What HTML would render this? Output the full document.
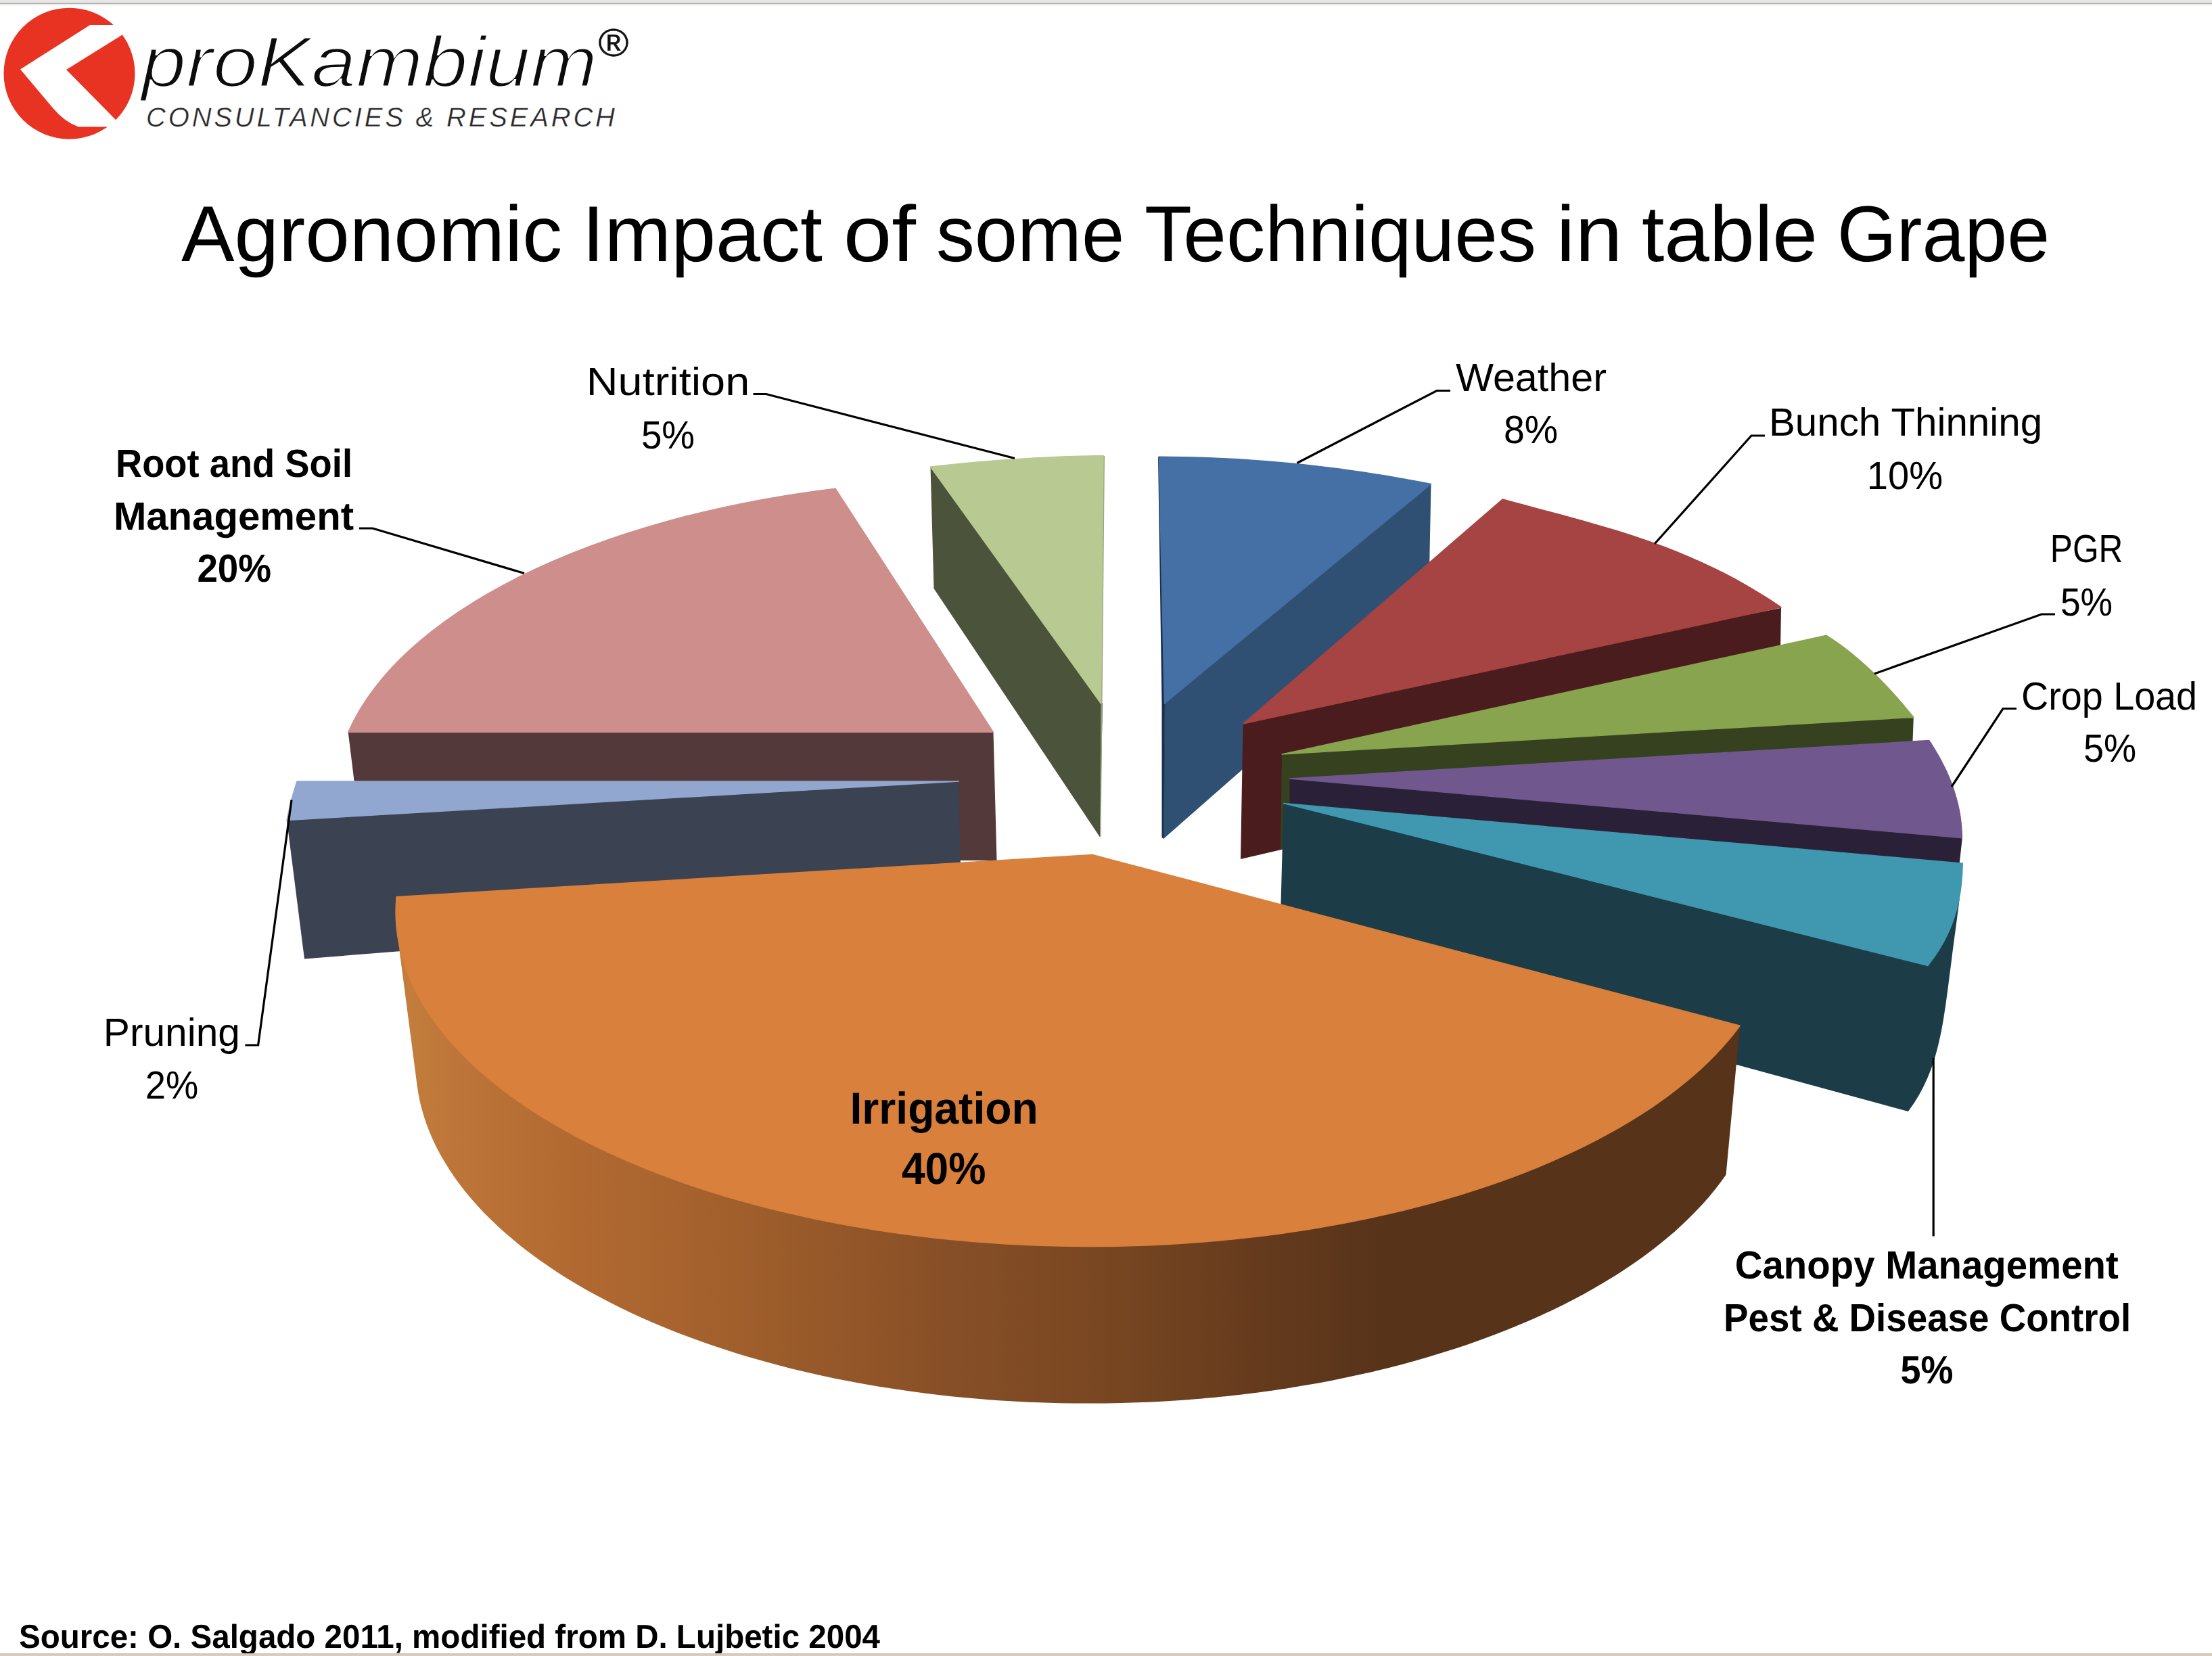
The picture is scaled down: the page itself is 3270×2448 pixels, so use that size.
<!DOCTYPE html>
<html lang="en"><head><meta charset="utf-8"><title>Agronomic Impact of some Techniques in table Grape</title>
<style>
html,body{margin:0;padding:0;background:#fff;}
body{width:3270px;height:2448px;overflow:hidden;}
svg{display:block;font-family:"Liberation Sans",sans-serif;text-rendering:geometricPrecision;}
</style></head><body>
<svg width="3270" height="2448" viewBox="0 0 3270 2448">
<rect width="3270" height="2448" fill="#fff"/>
<path d="M1375.5,690.0 L1380.5,870.0 L1626.0,1237.5 L1630.0,1040.0 L1500.0,860.0Z" fill="#4c533b"/>
<path d="M1631.0,673.5 L1633.0,674.0 L1629.5,1040.0 L1627.5,1236.0 L1626.0,1237.5 L1627.5,1040.0Z" fill="#96a57c"/>
<path d="M1375.5,690 Q1499,675.5 1631,673.5 L1627.5,1040Z" fill="#b8ca92" stroke="#b8ca92" stroke-width="1.4" stroke-linejoin="round"/>
<path d="M1721.5,1040.0 L1900.0,890.0 L2115.5,715.5 L2112.0,896.0 L1720.0,1240.0Z" fill="#2f5073"/>
<path d="M1712.0,675.0 L1714.0,675.0 L1722.0,1040.0 L1720.5,1240.0 L1717.5,1238.0 L1717.5,1040.0Z" fill="#1c3050"/>
<path d="M1721.5,1040 L1713.2,675.3 L1730.0,675.4 L1746.8,675.6 L1763.5,676.0 L1780.3,676.5 L1797.1,677.1 L1813.8,677.9 L1830.6,678.8 L1847.3,679.9 L1864.1,681.1 L1880.9,682.4 L1897.6,683.9 L1914.4,685.5 L1931.1,687.2 L1947.9,689.1 L1964.7,691.1 L1981.4,693.3 L1998.2,695.6 L2014.9,698.0 L2031.7,700.6 L2048.5,703.3 L2065.2,706.2 L2082.0,709.2 L2098.7,712.3 L2115.5,715.5Z" fill="#4570a5" stroke="#4570a5" stroke-width="1.4" stroke-linejoin="round"/>
<path d="M514.7,1082.4 L560.0,1078.0 L1440.0,1078.0 L1468.5,1082.4 L1473.5,1272.0 L538.0,1272.0Z" fill="#54393a"/>
<path d="M514.7,1082.4 A982.32,471.81 0 0 1 1235,722.1 L1468.5,1082.4Z" fill="#ce8e8c" stroke="#ce8e8c" stroke-width="1.4" stroke-linejoin="round"/>
<path d="M1837.5,1070.0 L2200.0,985.0 L2633.0,898.8 L2630.0,1085.0 L1834.0,1270.0Z" fill="#4b1c1d"/>
<path d="M1837.5,1070 L2221.2,738.0 L2238.4,742.7 L2255.6,747.3 L2272.7,751.9 L2289.9,756.4 L2307.0,761.0 L2324.2,765.7 L2341.3,770.4 L2358.5,775.3 L2375.7,780.3 L2392.8,785.5 L2410.0,791.0 L2427.1,796.7 L2444.3,802.7 L2461.4,809.0 L2478.6,815.7 L2495.8,822.8 L2512.9,830.3 L2530.1,838.3 L2547.2,846.7 L2564.4,855.7 L2581.5,865.3 L2598.7,875.5 L2615.8,886.2 L2633.0,897.7Z" fill="#a54442" stroke="#a54442" stroke-width="1.4" stroke-linejoin="round"/>
<path d="M1895.0,1115.0 L2400.0,1060.0 L2828.8,1061.2 L2822.0,1246.0 L1893.0,1255.0Z" fill="#36421f"/>
<path d="M1895,1115 L2700.0,939.3 L2705.4,942.8 L2710.7,946.3 L2716.1,950.0 L2721.5,953.9 L2726.8,957.9 L2732.2,962.0 L2737.6,966.3 L2742.9,970.7 L2748.3,975.2 L2753.6,979.9 L2759.0,984.7 L2764.4,989.7 L2769.7,994.8 L2775.1,1000.1 L2780.5,1005.5 L2785.8,1011.0 L2791.2,1016.7 L2796.6,1022.5 L2801.9,1028.4 L2807.3,1034.5 L2812.7,1040.8 L2818.0,1047.2 L2823.4,1053.7 L2828.8,1060.3Z" fill="#88a44e" stroke="#88a44e" stroke-width="1.4" stroke-linejoin="round"/>
<path d="M1906.5,1151.0 L2500.0,1160.0 L2900.8,1238.8 L2896.5,1278.0 L1906.5,1195.0Z" fill="#2a2139"/>
<path d="M1906.5,1151 L2851.7,1094.5 L2855.7,1100.5 L2859.4,1106.5 L2863.0,1112.5 L2866.5,1118.5 L2869.7,1124.6 L2872.8,1130.6 L2875.8,1136.6 L2878.6,1142.6 L2881.2,1148.6 L2883.6,1154.6 L2885.9,1160.6 L2888.0,1166.6 L2889.9,1172.6 L2891.7,1178.6 L2893.3,1184.7 L2894.8,1190.7 L2896.1,1196.7 L2897.2,1202.7 L2898.1,1208.7 L2898.9,1214.7 L2899.5,1220.7 L2900.0,1226.7 L2900.3,1232.7 L2900.4,1238.8Z" fill="#70588e" stroke="#70588e" stroke-width="1.4" stroke-linejoin="round"/>
<path d="M1897.5,1187.5 L2600,1253 L2901.4,1276.2 L2900.7,1288.5 L2899.7,1300.7 L2898.5,1312.9 L2897.1,1325.2 L2895.7,1337.4 L2894.1,1349.6 L2892.5,1361.8 L2890.9,1374.0 L2889.2,1386.3 L2887.6,1398.5 L2886.0,1410.7 L2884.5,1423.0 L2882.9,1435.2 L2881.3,1447.4 L2879.8,1459.6 L2878.1,1471.8 L2876.5,1484.1 L2874.6,1496.3 L2872.7,1508.5 L2870.5,1520.8 L2868.0,1533.0 L2865.2,1545.2 L2862.0,1557.4 L2858.4,1569.7 L2854.1,1581.9 L2849.2,1594.1 L2843.5,1606.3 L2837.0,1618.5 L2829.5,1630.8 L2820.9,1643.0 L1892,1390Z" fill="#1c3c47"/>
<path d="M1897.5,1187.5 L2901.1,1276.2 L2901.0,1282.6 L2900.8,1288.9 L2900.4,1295.2 L2899.9,1301.5 L2899.3,1307.8 L2898.5,1314.1 L2897.6,1320.4 L2896.5,1326.7 L2895.3,1333.0 L2893.8,1339.3 L2892.2,1345.6 L2890.4,1351.9 L2888.3,1358.2 L2886.1,1364.5 L2883.6,1370.8 L2880.9,1377.1 L2878.0,1383.4 L2874.8,1389.7 L2871.3,1396.0 L2867.6,1402.3 L2863.6,1408.6 L2859.3,1414.9 L2854.7,1421.2 L2849.9,1427.5Z" fill="#4097b0" stroke="#4097b0" stroke-width="1.4" stroke-linejoin="round"/>
<path d="M424.0,1212.5 L436.0,1185.0 L1300.0,1158.0 L1417.5,1155.0 L1421.0,1340.0 L450.0,1417.5Z" fill="#3b4252"/>
<path d="M439,1155 L1417.5,1155 L424,1212.5 Q430,1182 439,1155Z" fill="#92a7cf" stroke="#92a7cf" stroke-width="1.4" stroke-linejoin="round"/>
<defs><linearGradient id="og" gradientUnits="userSpaceOnUse" x1="586" y1="0" x2="2572" y2="0">
<stop offset="0.0000" stop-color="#c57e3c"/>
<stop offset="0.0222" stop-color="#c07a3a"/>
<stop offset="0.0574" stop-color="#bb7337"/>
<stop offset="0.1354" stop-color="#b16931"/>
<stop offset="0.2085" stop-color="#a8632e"/>
<stop offset="0.2613" stop-color="#9f5e2b"/>
<stop offset="0.3595" stop-color="#905428"/>
<stop offset="0.4099" stop-color="#874f27"/>
<stop offset="0.5358" stop-color="#774621"/>
<stop offset="0.6365" stop-color="#663b1d"/>
<stop offset="0.7372" stop-color="#57331a"/>
<stop offset="1.0000" stop-color="#57331a"/>
</linearGradient></defs>
<path d="M586.1,1325.7 L585.5,1332.2 L585.2,1338.8 L585.0,1345.3 L585.1,1351.9 L585.3,1358.4 L585.7,1365.0 L586.2,1371.5 L587.0,1378.1 L616.7,1605.3 L618.5,1616.8 L620.7,1628.2 L623.6,1639.6 L626.9,1651.0 L630.7,1662.3 L635.0,1673.6 L639.9,1684.8 L645.2,1696.0 L651.1,1707.1 L657.5,1718.1 L664.3,1729.1 L671.7,1739.9 L679.5,1750.7 L687.8,1761.4 L696.6,1772.0 L705.9,1782.5 L715.6,1792.9 L725.8,1803.1 L736.5,1813.3 L747.6,1823.3 L759.2,1833.1 L771.2,1842.9 L783.7,1852.5 L796.6,1861.9 L809.9,1871.2 L823.6,1880.4 L837.7,1889.4 L852.3,1898.2 L867.2,1906.9 L882.5,1915.3 L898.2,1923.6 L914.3,1931.7 L930.7,1939.7 L947.5,1947.4 L964.6,1954.9 L982.1,1962.3 L999.9,1969.4 L1018.0,1976.3 L1036.4,1983.0 L1055.1,1989.5 L1074.1,1995.8 L1093.4,2001.9 L1113.0,2007.7 L1132.8,2013.3 L1152.9,2018.7 L1173.2,2023.9 L1193.7,2028.8 L1214.5,2033.4 L1235.4,2037.9 L1256.6,2042.1 L1277.9,2046.0 L1299.4,2049.7 L1321.1,2053.1 L1342.9,2056.3 L1364.8,2059.3 L1386.9,2062.0 L1409.1,2064.4 L1431.4,2066.6 L1453.9,2068.5 L1476.3,2070.2 L1498.9,2071.6 L1521.5,2072.7 L1544.2,2073.6 L1566.9,2074.2 L1589.6,2074.6 L1612.3,2074.6 L1635.0,2074.5 L1657.8,2074.0 L1680.4,2073.3 L1703.1,2072.4 L1725.7,2071.2 L1748.3,2069.7 L1770.7,2068.0 L1793.1,2066.0 L1815.4,2063.7 L1837.6,2061.2 L1859.7,2058.5 L1881.6,2055.4 L1903.4,2052.2 L1925.1,2048.6 L1946.6,2044.9 L1967.9,2040.9 L1989.0,2036.6 L2010.0,2032.1 L2030.7,2027.4 L2051.2,2022.4 L2071.5,2017.2 L2091.5,2011.7 L2111.3,2006.0 L2130.8,2000.1 L2150.1,1994.0 L2169.1,1987.7 L2187.8,1981.1 L2206.2,1974.3 L2224.3,1967.3 L2242.0,1960.1 L2259.4,1952.8 L2276.5,1945.2 L2293.3,1937.4 L2309.7,1929.4 L2325.7,1921.2 L2341.4,1912.9 L2356.7,1904.3 L2371.6,1895.6 L2386.1,1886.8 L2400.1,1877.7 L2413.8,1868.6 L2427.1,1859.2 L2439.9,1849.7 L2452.4,1840.1 L2464.3,1830.3 L2475.9,1820.4 L2486.9,1810.3 L2497.6,1800.1 L2507.7,1789.8 L2517.4,1779.4 L2526.7,1768.9 L2535.4,1758.3 L2543.7,1747.6 L2551.5,1736.8 L2572.2,1516.3 L1615.0,1420.0Z" fill="url(#og)"/>
<path d="M1615,1263.5 L586.1,1325.7 L585.3,1337.3 L585.0,1349.0 L585.4,1360.7 L586.3,1372.4 L587.8,1384.1 L589.9,1395.7 L592.5,1407.3 L595.8,1418.9 L599.5,1430.5 L603.9,1442.0 L608.8,1453.4 L614.3,1464.8 L620.3,1476.2 L626.9,1487.4 L634.1,1498.6 L641.8,1509.7 L650.0,1520.7 L658.8,1531.6 L668.1,1542.4 L678.0,1553.1 L688.3,1563.7 L699.2,1574.2 L710.6,1584.5 L722.5,1594.7 L734.9,1604.8 L747.8,1614.7 L761.1,1624.5 L775.0,1634.1 L789.3,1643.6 L804.1,1652.9 L819.3,1662.0 L835.0,1671.0 L851.1,1679.8 L867.6,1688.4 L884.6,1696.7 L901.9,1704.9 L919.7,1712.9 L937.8,1720.7 L956.3,1728.3 L975.2,1735.7 L994.4,1742.9 L1014.0,1749.8 L1033.9,1756.5 L1054.2,1763.0 L1074.7,1769.3 L1095.6,1775.3 L1116.7,1781.0 L1138.1,1786.6 L1159.8,1791.9 L1181.7,1796.9 L1203.9,1801.7 L1226.3,1806.2 L1248.9,1810.5 L1271.7,1814.5 L1294.8,1818.3 L1317.9,1821.8 L1341.3,1825.0 L1364.8,1828.0 L1388.4,1830.7 L1412.2,1833.1 L1436.0,1835.2 L1460.0,1837.1 L1484.0,1838.7 L1508.1,1840.0 L1532.3,1841.1 L1556.5,1841.9 L1580.8,1842.4 L1605.0,1842.6 L1629.3,1842.5 L1653.5,1842.2 L1677.8,1841.6 L1701.9,1840.7 L1726.1,1839.5 L1750.1,1838.1 L1774.1,1836.4 L1798.0,1834.4 L1821.8,1832.1 L1845.4,1829.6 L1869.0,1826.8 L1892.4,1823.7 L1915.6,1820.4 L1938.6,1816.8 L1961.5,1812.9 L1984.2,1808.8 L2006.6,1804.4 L2028.8,1799.8 L2050.8,1794.9 L2072.6,1789.8 L2094.1,1784.4 L2115.3,1778.7 L2136.2,1772.9 L2156.8,1766.8 L2177.1,1760.4 L2197.1,1753.8 L2216.8,1747.0 L2236.1,1740.0 L2255.1,1732.8 L2273.7,1725.3 L2291.9,1717.6 L2309.8,1709.7 L2327.2,1701.7 L2344.3,1693.4 L2360.9,1684.9 L2377.1,1676.2 L2392.9,1667.4 L2408.2,1658.4 L2423.1,1649.2 L2437.6,1639.8 L2451.5,1630.3 L2465.0,1620.6 L2478.0,1610.7 L2490.5,1600.8 L2502.5,1590.6 L2514.1,1580.4 L2525.1,1570.0 L2535.6,1559.4 L2545.5,1548.8 L2555.0,1538.1 L2563.9,1527.2 L2572.2,1516.3Z" fill="#d8803c" stroke="#d8803c" stroke-width="1.4" stroke-linejoin="round"/>
<path d="M1113.5,582.5 L1132.5,582.5 L1500.0,677.5" fill="none" stroke="#000" stroke-width="3.2"/>
<path d="M2144.0,577.5 L2124.0,577.5 L1917.5,684.5" fill="none" stroke="#000" stroke-width="3.2"/>
<path d="M2609.0,644.0 L2589.0,644.0 L2446.2,803.8" fill="none" stroke="#000" stroke-width="3.2"/>
<path d="M3038.0,908.0 L3018.0,908.0 L2771.0,996.0" fill="none" stroke="#000" stroke-width="3.2"/>
<path d="M2981.0,1047.5 L2961.0,1047.5 L2885.0,1163.0" fill="none" stroke="#000" stroke-width="3.2"/>
<path d="M2858.2,1563.8 L2858.2,1827.5" fill="none" stroke="#000" stroke-width="3.2"/>
<path d="M362.4,1545.0 L381.6,1545.0 L431.0,1182.5" fill="none" stroke="#000" stroke-width="3.2"/>
<path d="M531.0,781.0 L551.0,781.0 L775.0,847.5" fill="none" stroke="#000" stroke-width="3.2"/>
<text x="866.8" y="584" font-size="58" font-weight="normal" textLength="241.4" lengthAdjust="spacingAndGlyphs">Nutrition</text>
<text x="947.9" y="662.5" font-size="58" font-weight="normal" textLength="79.2" lengthAdjust="spacingAndGlyphs">5%</text>
<text x="2152.0" y="577.5" font-size="58" font-weight="normal" textLength="223.0" lengthAdjust="spacingAndGlyphs">Weather</text>
<text x="2222.9" y="655" font-size="58" font-weight="normal" textLength="80.2" lengthAdjust="spacingAndGlyphs">8%</text>
<text x="2614.9" y="644" font-size="58" font-weight="normal" textLength="404.2" lengthAdjust="spacingAndGlyphs">Bunch Thinning</text>
<text x="2759.7" y="722.5" font-size="58" font-weight="normal" textLength="112.4" lengthAdjust="spacingAndGlyphs">10%</text>
<text x="3030.8" y="830.5" font-size="58" font-weight="normal" textLength="107.5" lengthAdjust="spacingAndGlyphs">PGR</text>
<text x="3045.9" y="909.5" font-size="58" font-weight="normal" textLength="77.2" lengthAdjust="spacingAndGlyphs">5%</text>
<text x="2987.9" y="1049" font-size="58" font-weight="normal" textLength="260.2" lengthAdjust="spacingAndGlyphs">Crop Load</text>
<text x="3079.9" y="1126" font-size="58" font-weight="normal" textLength="78.2" lengthAdjust="spacingAndGlyphs">5%</text>
<text x="152.8" y="1546" font-size="58" font-weight="normal" textLength="202.2" lengthAdjust="spacingAndGlyphs">Pruning</text>
<text x="214.8" y="1624.3" font-size="58" font-weight="normal" textLength="78.4" lengthAdjust="spacingAndGlyphs">2%</text>
<text x="170.9" y="705" font-size="58" font-weight="bold" textLength="350.1" lengthAdjust="spacingAndGlyphs">Root and Soil</text>
<text x="167.9" y="783" font-size="58" font-weight="bold" textLength="355.1" lengthAdjust="spacingAndGlyphs">Management</text>
<text x="291.4" y="860" font-size="58" font-weight="bold" textLength="109.7" lengthAdjust="spacingAndGlyphs">20%</text>
<text x="1256.5" y="1660.5" font-size="66" font-weight="bold" textLength="278.2" lengthAdjust="spacingAndGlyphs">Irrigation</text>
<text x="1333.0" y="1750" font-size="66" font-weight="bold" textLength="124.4" lengthAdjust="spacingAndGlyphs">40%</text>
<text x="2564.8" y="1889.8" font-size="58" font-weight="bold" textLength="567.0" lengthAdjust="spacingAndGlyphs">Canopy Management</text>
<text x="2548.1" y="1967.8" font-size="58" font-weight="bold" textLength="602.1" lengthAdjust="spacingAndGlyphs">Pest &amp; Disease Control</text>
<text x="2809.6" y="2045.4" font-size="58" font-weight="bold" textLength="77.9" lengthAdjust="spacingAndGlyphs">5%</text>
<text x="268.0" y="385.5" font-size="117" font-weight="normal" textLength="563.1" lengthAdjust="spacingAndGlyphs">Agronomic</text>
<text x="860.6" y="385.5" font-size="117" font-weight="normal" textLength="355.4" lengthAdjust="spacingAndGlyphs">Impact</text>
<text x="1246.7" y="385.5" font-size="117" font-weight="normal" textLength="107.3" lengthAdjust="spacingAndGlyphs">of</text>
<text x="1383.9" y="385.5" font-size="117" font-weight="normal" textLength="278.3" lengthAdjust="spacingAndGlyphs">some</text>
<text x="1692.0" y="385.5" font-size="117" font-weight="normal" textLength="579.1" lengthAdjust="spacingAndGlyphs">Techniques</text>
<text x="2300.5" y="385.5" font-size="117" font-weight="normal" textLength="97.9" lengthAdjust="spacingAndGlyphs">in</text>
<text x="2426.9" y="385.5" font-size="117" font-weight="normal" textLength="260.2" lengthAdjust="spacingAndGlyphs">table</text>
<text x="2715.8" y="385.5" font-size="117" font-weight="normal" textLength="314.4" lengthAdjust="spacingAndGlyphs">Grape</text>
<text x="28.0" y="2436.3" font-size="49" font-weight="bold" textLength="1273.0" lengthAdjust="spacingAndGlyphs">Source: O. Salgado 2011, modified from D. Lujbetic 2004</text>
<circle cx="102.5" cy="108.7" r="97" fill="#e83323"/>
<clipPath id="lc"><circle cx="102.5" cy="108.7" r="97.5"/></clipPath>
<path clip-path="url(#lc)" d="M133,37 L220,37 L220,27 L98,103 L230,237 L180,187.5 L116,187.5 Q95,180 78,159.5 L30,102.5Z" fill="#fff"/>
<text x="209" y="127.5" font-size="106" font-style="italic" textLength="674" lengthAdjust="spacingAndGlyphs" fill="#0c0c0c" stroke="#fff" stroke-width="2.8">proKambium</text>
<text x="883.5" y="82.8" font-size="58" font-style="italic" fill="#111" stroke="#111" stroke-width="0.5" textLength="45" lengthAdjust="spacingAndGlyphs">®</text>
<text x="216" y="186.5" font-size="40" font-style="italic" textLength="693" lengthAdjust="spacing" fill="#2a2a2a" stroke="#fff" stroke-width="0.4">CONSULTANCIES &amp; RESEARCH</text>
<rect x="0" y="0" width="3270" height="8" fill="#ececea"/>
<rect x="0" y="0" width="3270" height="4" fill="#e8e7e5"/>
<rect x="0" y="4" width="3270" height="2" fill="#b4b4b2"/>
<rect x="0" y="2444" width="3270" height="2" fill="#c8c8c8"/>
<rect x="0" y="2446" width="3270" height="2" fill="#e8cca8"/>
</svg>
</body></html>
